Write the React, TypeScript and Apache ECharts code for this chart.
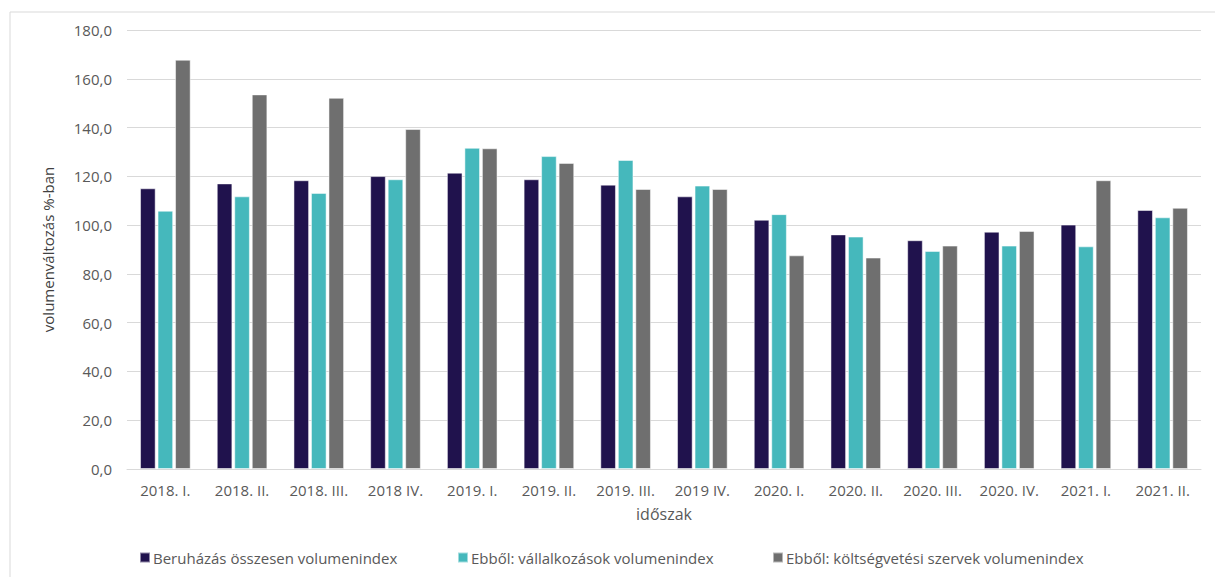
import React, { useEffect, useRef } from "react";
import * as echarts from "echarts";

const categories = [
  "2018. I.", "2018. II.", "2018. III.", "2018 IV.",
  "2019. I.", "2019. II.", "2019. III.", "2019 IV.",
  "2020. I.", "2020. II.", "2020. III.", "2020. IV.",
  "2021. I.", "2021. II.",
];

const seriesNames = [
  "Beruházás összesen volumenindex",
  "Ebből: vállalkozások volumenindex",
  "Ebből: költségvetési szervek volumenindex",
];

const totalValues = [115.1, 117.1, 118.4, 120.1, 121.5, 118.8, 116.6, 111.8, 102.2, 96.2, 93.8, 97.3, 100.2, 106.2];
const businessValues = [105.9, 111.8, 113.2, 118.8, 131.7, 128.3, 126.7, 116.2, 104.5, 95.3, 89.4, 91.6, 91.3, 103.2];
const budgetValues = [167.8, 153.6, 152.2, 139.4, 131.5, 125.5, 114.8, 114.8, 87.6, 86.7, 91.6, 97.6, 118.4, 107.1];

const colors = ["#20124d", "#45b8bc", "#6f6f6f"];
const legendLefts = [134, 452, 767];

const FONT = "'Open Sans', 'Noto Sans', sans-serif";

export default function App() {
  const ref = useRef<HTMLDivElement>(null);

  useEffect(() => {
    document.body.style.margin = "0";
    if (!ref.current) return;
    const chart = echarts.init(ref.current, undefined, { renderer: "svg" });
    const mkSeries = (name: string, data: number[], color: string) => ({
      name,
      type: "bar",
      data,
      barGap: "12%",
      barCategoryGap: "34%",
      itemStyle: { color, borderColor: "rgba(255,255,255,0.5)", borderWidth: 1 },
    });
    chart.setOption({
      animation: false,
      textStyle: { fontFamily: FONT },
      graphic: [
        {
          type: "rect",
          shape: { x: 10, y: 12, width: 1220, height: 600 },
          style: { fill: "none", stroke: "#d9d9d9", lineWidth: 1 },
          silent: true,
        },
      ],
      grid: { left: 127, right: 14, top: 30, bottom: 108, containLabel: false },
      legend: seriesNames.map((n, i) => ({
        data: [n],
        left: legendLefts[i],
        top: 545,
        itemWidth: 10,
        itemHeight: 10,
        itemGap: 4,
        icon: "rect",
        textStyle: { fontFamily: FONT, fontSize: 15, color: "#595959", padding: [0, 0, 0, -2] },
      })),
      xAxis: {
        type: "category",
        data: categories,
        name: "időszak",
        nameLocation: "middle",
        nameGap: 37,
        nameTextStyle: { fontFamily: FONT, fontSize: 16, color: "#595959" },
        axisLine: { lineStyle: { color: "#d9d9d9", width: 1 } },
        axisTick: { show: false },
        axisLabel: { fontFamily: FONT, fontSize: 15, color: "#595959", margin: 13, interval: 0 },
      },
      yAxis: {
        type: "value",
        min: 0,
        max: 180,
        interval: 20,
        name: "volumenváltozás %-ban",
        nameLocation: "middle",
        nameGap: 72,
        nameTextStyle: { fontFamily: FONT, fontSize: 15, color: "#404040" },
        axisLine: { show: false },
        axisTick: { show: false },
        splitLine: { lineStyle: { color: "#d9d9d9", width: 1 } },
        axisLabel: {
          fontFamily: FONT,
          fontSize: 15,
          color: "#595959",
          margin: 15,
          formatter: (v: number) => v.toFixed(1).replace(".", ","),
        },
      },
      series: [
        mkSeries(seriesNames[0], totalValues, colors[0]),
        mkSeries(seriesNames[1], businessValues, colors[1]),
        mkSeries(seriesNames[2], budgetValues, colors[2]),
      ],
    });
    return () => chart.dispose();
  }, []);

  return <div ref={ref} style={{ width: 1215, height: 577 }} />;
}
